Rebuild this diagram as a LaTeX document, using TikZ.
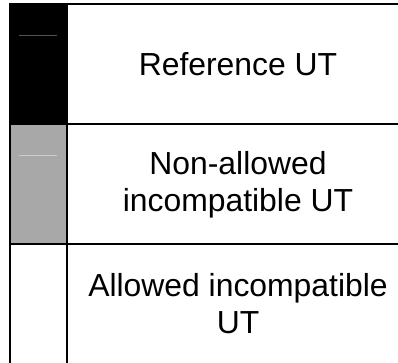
\documentclass[tikz,border=0pt]{standalone}
\usepackage{fontspec}
\setmainfont{Liberation Sans}
\definecolor{midgray}{RGB}{168,168,168}
\begin{document}
\begin{tikzpicture}[x=1bp, y=-1bp, line width=2.5bp,
    lbl/.style={align=center, font=\fontsize{32}{37}\selectfont}]
\useasboundingbox (0,0) rectangle (398,363);
\fill (9,3) rectangle (66,124);
\fill[midgray] (11,124) rectangle (66,244);
\draw[line width=1bp, gray!65!black] (19,35)--(57,35);
\draw[line width=1bp, gray!40] (19,155)--(57,155);
\draw (9,4)--(398,4);
\draw (10,3)--(10,363);
\draw (67,3)--(67,363);
\draw (10,124)--(398,124);
\draw (10,244)--(398,244);
\node[lbl] (ref) at (238,64) {Reference UT};
\node[lbl] (nonallowed) at (238,185) {Non-allowed\\incompatible UT};
\node[lbl] (allowed) at (238,304) {Allowed incompatible\\UT};
\end{tikzpicture}
\end{document}
